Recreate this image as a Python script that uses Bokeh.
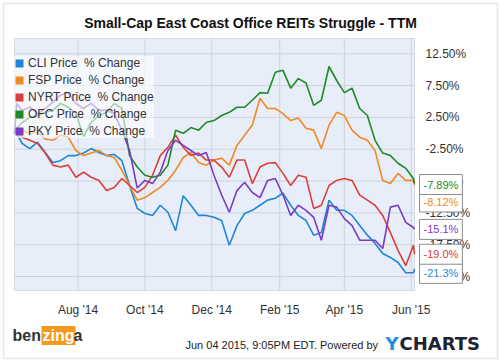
import pandas as pd
from bokeh.plotting import figure
from bokeh.models import (Range1d, FixedTicker, DatetimeTickFormatter, PrintfTickFormatter,
                          Legend, LegendItem, Label, ColumnDataSource, BoxAnnotation)
from bokeh.embed import file_html
from bokeh.resources import INLINE

# ---- data (percent change) ----
dates = ([pd.Timestamp("2014-06-04"), pd.Timestamp("2014-06-06")]
         + list(pd.date_range("2014-06-11", periods=52, freq="7D"))
         + [pd.Timestamp("2015-06-04")])

cli = [0, 0.0, -1.6, -2.4, -1.4, -3.0, -4.6, -4.3, -3.5, -3.5, -3.1,
       -2.4, -3.0, -3.5, -3.3, -4.3, -8.2, -11.8, -12.6, -12.9, -11.3,
       -12.4, -15.3, -9.8, -11.3, -12.9, -12.9, -13.2, -13.7, -17.6, -14.5,
       -12.6, -12.1, -11.3, -10.5, -10.2, -9.4, -11.3, -12.9, -13.7, -16.0,
       -15.6, -10.5, -12.1, -12.1, -12.9, -14.5, -16.0, -17.3, -18.9, -19.5,
       -20.3, -21.9, -21.9, -21.3]
fsp = [0, 0.2, 0.5, 0.0, 0.2, -0.9, -1.1, -0.3, -0.6, -2.7, -3.5,
       -3.1, -2.7, -3.5, -3.8, -5.8, -8.2, -10.5, -10.1, -9.3, -8.5,
       -7.4, -5.8, -3.8, -3.0, -4.6, -5.0, -4.2, -3.9, -5.0, -1.9,
       -0.3, 1.3, 5.5, 3.9, 3.9, 3.1, 2.0, 2.4, 0.8, 0.5,
       -2.4, 1.3, 3.3, 2.8, 0.5, -0.6, -1.1, -2.7, -7.4, -7.9,
       -6.3, -7.4, -7.4, -8.12]
nyrt = [0, 0.8, -0.6, -1.1, -1.6, -3.1, -5.0, -5.3, -5.0, -6.9, -6.1,
        -6.9, -7.4, -9.0, -8.5, -7.1, -8.2, -9.3, -8.5, -6.6, -3.5,
        -2.2, -0.3, -2.2, -3.5, -3.1, -4.2, -4.2, -5.3, -6.9, -4.2,
        -4.2, -7.9, -5.3, -4.7, -4.6, -6.3, -8.2, -6.6, -6.9, -11.8,
        -11.3, -8.2, -7.4, -7.1, -7.4, -9.7, -10.5, -11.3, -12.9, -15.6,
        -18.4, -20.8, -17.6, -19.0]
ofc = [0, 0.8, 1.7, 2.5, 2.8, 3.3, 3.6, 4.7, 4.1, 3.1, -0.5,
       1.7, 2.8, 3.3, 4.7, 3.9, -3.5, -5.3, -6.6, -6.9, -6.6,
       -5.0, 0.5, 0.0, 0.9, 0.5, 1.7, 2.0, 2.8, 3.3, 4.1,
       4.1, 5.2, 6.4, 6.3, 9.6, 9.9, 7.1, 8.6, 7.9, 4.4,
       5.2, 10.5, 8.3, 6.4, 7.1, 3.9, 2.8, -1.1, -3.1, -3.5,
       -4.7, -5.5, -7.1, -7.89]
pky = [0, 4.7, 3.6, 4.1, 3.1, 3.9, 4.9, 6.0, 6.4, 4.7, 3.9,
       4.7, 3.6, 3.6, 3.1, 0.5, -2.7, -8.6, -7.4, -7.9, -6.1,
       -2.7, -1.1, -1.9, -2.7, -3.5, -3.0, -6.6, -9.7, -12.4, -9.0,
       -7.7, -9.3, -10.1, -7.4, -7.1, -9.7, -12.9, -11.3, -12.1, -13.2,
       -16.8, -11.3, -11.6, -13.4, -14.5, -16.8, -16.8, -16.8, -18.1, -11.6,
       -11.3, -14.0, -14.8, -15.1]

names = ["CLI Price  % Change", "FSP Price  % Change", "NYRT Price  % Change",
         "OFC Price  % Change", "PKY Price  % Change"]
keys = ["cli", "fsp", "nyrt", "ofc", "pky"]
series = [cli, fsp, nyrt, ofc, pky]
colors = ["#1f86d6", "#f08a24", "#d9403a", "#1d8a24", "#7b3cc2"]

x_tick_dates = ["2014-08-01", "2014-10-01", "2014-12-01", "2015-02-01", "2015-04-01", "2015-06-01"]
y_ticks = [12.5, 7.5, 2.5, -2.5, -7.5, -12.5, -17.5, -22.5]
y_lo, y_hi = -24.7, 14.9          # value extent of the plot area

FONT = "Liberation Sans"

# ---- layout: the frame covers the whole canvas; the plot area sits inside it ----
W, H = 500, 361
PX_L, PX_R, PX_T, PX_B = 14, 414, 38, 290
x0 = dates[0].timestamp() * 1000
x1 = dates[-1].timestamp() * 1000
mpp = (x1 - x0) / (PX_R - PX_L)
upp = (y_hi - y_lo) / (PX_B - PX_T)
xr = Range1d(x0 - PX_L * mpp, x1 + (W - PX_R) * mpp)
yr = Range1d(y_lo - (H - PX_B) * upp, y_hi + PX_T * upp)

src = ColumnDataSource(dict(date=dates, cli=cli, fsp=fsp, nyrt=nyrt, ofc=ofc, pky=pky))

p = figure(width=W, height=H, x_axis_type="datetime", y_axis_location="right",
           output_backend="svg", toolbar_location=None, x_range=xr, y_range=yr,
           min_border=0)
p.title.visible = False
p.background_fill_color = "white"
p.border_fill_color = "white"
p.outline_line_color = None
p.grid.visible = False

# outer frame of the picture
p.add_layout(BoxAnnotation(left=3, right=W - 3, bottom=3, top=H - 3,
                           left_units="screen", right_units="screen",
                           bottom_units="screen", top_units="screen",
                           fill_alpha=0, line_color="#b4b4b4", line_width=1.5,
                           level="underlay"))
# plot area
p.add_layout(BoxAnnotation(left=x0, right=x1, bottom=y_lo, top=y_hi,
                           fill_color="#e8eef9", fill_alpha=1,
                           line_color="#9a9a9a", line_width=1, level="underlay"))

tick_ms = [pd.Timestamp(d).timestamp() * 1000 for d in x_tick_dates]
# grid lines limited to the plot area
p.segment(x0=tick_ms, x1=tick_ms, y0=[y_lo] * len(tick_ms), y1=[y_hi] * len(tick_ms),
          line_color="#cdd3dc", line_width=1)
p.segment(x0=[x0] * len(y_ticks), x1=[x1] * len(y_ticks), y0=y_ticks, y1=y_ticks,
          line_color="#cdd3dc", line_width=1)

# axes pinned to the plot-area edges
p.xaxis.fixed_location = y_lo
p.yaxis.fixed_location = x1
p.xaxis.ticker = FixedTicker(ticks=tick_ms)
fmt = "%b '%y"
p.xaxis.formatter = DatetimeTickFormatter(days=fmt, months=fmt, years=fmt, hours=fmt,
                                          minutes=fmt, seconds=fmt, milliseconds=fmt,
                                          microseconds=fmt, minsec=fmt, hourmin=fmt)
p.yaxis.ticker = FixedTicker(ticks=y_ticks)
p.yaxis.formatter = PrintfTickFormatter(format="%.2f%%")
for ax in (p.xaxis, p.yaxis):
    ax.major_tick_line_color = None
    ax.minor_tick_line_color = None
    ax.axis_line_color = None
    ax.major_label_text_font = FONT
    ax.major_label_text_font_size = "12px"
    ax.major_label_text_color = "#333333"
p.xaxis.major_label_standoff = 6
p.yaxis.major_label_standoff = 5

for k, c in zip(keys, colors):
    p.line(x="date", y=k, source=src, line_color=c, line_width=1.6)

# title and footer
p.add_layout(Label(x=250, y=H - 22, x_units="screen", y_units="screen",
                   text="Small-Cap East Coast Office REITs Struggle - TTM",
                   text_align="center", text_baseline="middle", text_font=FONT,
                   text_font_size="14px", text_font_style="bold", text_color="#111111"))
p.add_layout(Label(x=185, y=H - 344, x_units="screen", y_units="screen",
                   text="Jun 04 2015, 9:05PM EDT.  Powered by", text_align="left",
                   text_baseline="middle", text_font=FONT, text_font_size="11px",
                   text_color="#222222"))
p.add_layout(Label(x=385, y=H - 343, x_units="screen", y_units="screen", text="Y",
                   text_align="left", text_baseline="middle", text_font="DejaVu Sans",
                   text_font_size="18px", text_font_style="bold", text_color="#1e90dc"))
p.add_layout(Label(x=399, y=H - 343, x_units="screen", y_units="screen", text="CHARTS",
                   text_align="left", text_baseline="middle", text_font="DejaVu Sans",
                   text_font_size="18px", text_font_style="bold", text_color="#1c2333"))
p.add_layout(Label(x=12, y=H - 335, x_units="screen", y_units="screen", text="ben",
                   text_align="left", text_baseline="middle", text_font=FONT,
                   text_font_size="16px", text_font_style="bold", text_color="#333333"))
p.add_layout(Label(x=41, y=H - 335, x_units="screen", y_units="screen", text="zing",
                   text_align="left", text_baseline="middle", text_font=FONT,
                   text_font_size="16px", text_font_style="bold", text_color="#ffffff",
                   background_fill_color="#f39a1e", padding=1))
p.add_layout(Label(x=73, y=H - 335, x_units="screen", y_units="screen", text="a",
                   text_align="left", text_baseline="middle", text_font=FONT,
                   text_font_size="16px", text_font_style="bold", text_color="#333333"))

# end-value callouts
offsets = [-4.5, -17, 0, -1, 0]
for s, c, off in zip(series, colors, offsets):
    v = s[-1]
    p.add_layout(Label(x=PX_R + 5, x_units="screen", y=v, y_units="data", y_offset=off,
                       text=f"{v:#.3g}%", text_align="left", text_baseline="middle",
                       text_font=FONT, text_font_size="11px", text_color=c,
                       background_fill_color="white", border_line_color="#8c8c8c",
                       padding=4))

# legend with square swatches (zero-area quads: nothing visible on the plot)
items = []
for nm, k, c in zip(names, keys, colors):
    r = p.quad(left="date", right="date", top=k, bottom=k, source=src,
               fill_color=c, line_color=None)
    items.append(LegendItem(label=nm, renderers=[r]))
legend = Legend(items=items, location=(PX_L, H - PX_T - 100), margin=0, padding=9, spacing=3,
                label_height=14, glyph_height=10, glyph_width=10, label_standoff=4,
                label_text_font=FONT, label_text_font_size="12px", label_text_color="#333333",
                background_fill_color="white", background_fill_alpha=0.6, border_line_color=None)
p.add_layout(legend)

open("out.html", "w").write(file_html(p, INLINE))
